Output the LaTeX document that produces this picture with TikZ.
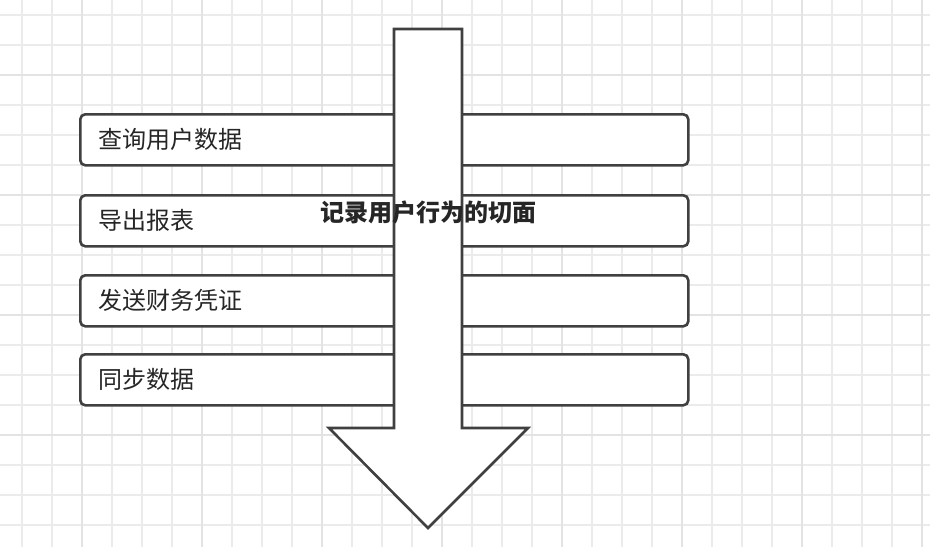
\documentclass[tikz,border=0pt]{standalone}
\usepackage{fontspec}
\setmainfont{Noto Sans CJK SC}
\usetikzlibrary{positioning}
\tikzset{stepbox/.style={draw=black!75, line width=2.6pt, rounded corners=5pt, fill=white,
    minimum width=608pt, minimum height=51pt, anchor=north west, inner sep=0pt},
  boxlabel/.style={anchor=west, font=\fontsize{24}{24}\selectfont, text=black!85},
  gridline/.style={black!8, line width=1.5pt}}
\begin{document}
\begin{tikzpicture}[x=1pt,y=-1pt]
  \useasboundingbox (0,0) rectangle (930,547);
  \fill[white] (0,0) rectangle (930,547);
  % grid
  \foreach \x in {22,52,...,922} \draw[gridline] (\x,0) -- (\x,547);
  \foreach \y in {15,45,...,545} \draw[gridline] (0,\y) -- (930,\y);
  \foreach \x in {82,202,...,922} \draw[black!11, line width=1.5pt] (\x,0) -- (\x,547);
  \foreach \y in {75,195,...,545} \draw[black!11, line width=1.5pt] (0,\y) -- (930,\y);
  % boxes
  \node[stepbox] (query) at (79,113) {};
  \node[stepbox] (export) at (79,194) {};
  \node[stepbox] (voucher) at (79,274) {};
  \node[stepbox] (sync) at (79,353) {};
  \node[boxlabel] at ([xshift=16pt]query.west) {查询用户数据};
  \node[boxlabel] at ([xshift=16pt]export.west) {导出报表};
  \node[boxlabel] at ([xshift=16pt]voucher.west) {发送财务凭证};
  \node[boxlabel] at ([xshift=16pt]sync.west) {同步数据};
  % aspect arrow
  \draw[black!75, line width=2.6pt, fill=white, line join=miter]
    (394,29) -- (462,29) -- (462,428) -- (528,428) -- (428,528)
    -- (329,428) -- (394,428) -- cycle;
  \node[font=\bfseries\fontsize{24}{24}\selectfont, text=black!85] (aspect) at (428,212) {记录用户行为的切面};
\end{tikzpicture}
\end{document}
